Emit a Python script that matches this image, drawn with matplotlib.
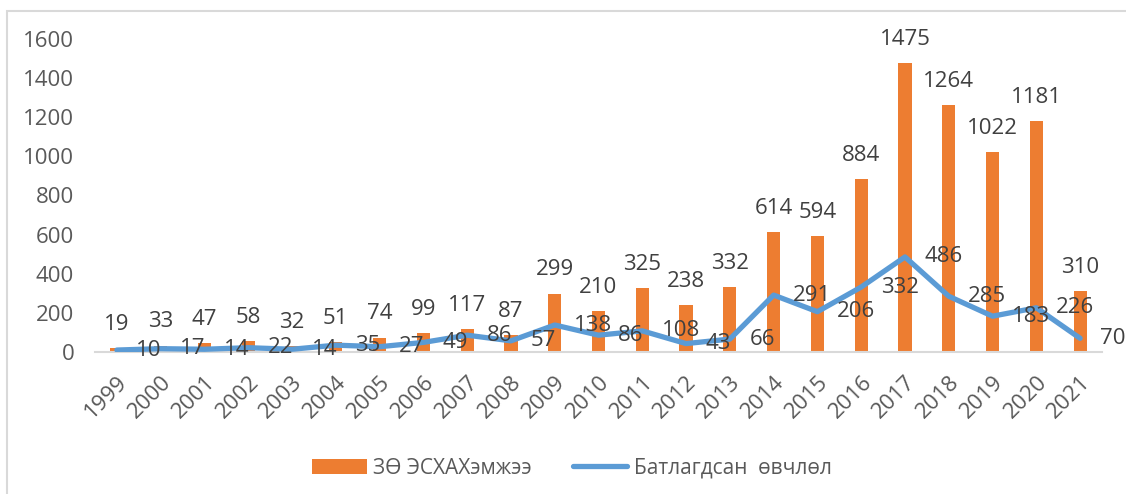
import matplotlib
matplotlib.use('Agg')
import matplotlib.pyplot as plt
from matplotlib.patches import Rectangle

plt.rcParams['font.family'] = ['Open Sans', 'DejaVu Sans']

years = [str(y) for y in range(1999, 2022)]
treatment = [19, 33, 47, 58, 32, 51, 74, 99, 117, 87, 299, 210, 325, 238, 332,
             614, 594, 884, 1475, 1264, 1022, 1181, 310]
cases = [10, 17, 14, 22, 14, 35, 27, 49, 86, 57, 138, 86, 108, 43, 66,
         291, 206, 332, 486, 285, 183, 226, 70]
bar_label = 'ЗӨ ЭСХАХэмжээ'
line_label = 'Батлагдсан  өвчлөл'
yticks = [0, 200, 400, 600, 800, 1000, 1200, 1400, 1600]

W, H = 1126, 494
fig = plt.figure(figsize=(W / 100, H / 100), dpi=100)
ax = fig.add_axes([95 / W, 1 - 352 / H, (1102 - 95) / W, (352 - 39) / H])

x = list(range(len(years)))
bars = ax.bar(x, treatment, width=0.3, color='#ED7D31', label=bar_label, zorder=2)
line, = ax.plot(x, cases, color='#5B9BD5', lw=3.8, solid_joinstyle='round',
                solid_capstyle='round', label=line_label, zorder=3)

ax.set_xlim(-0.5, len(years) - 0.5)
ax.set_ylim(0, 1600)
ax.set_yticks(yticks)
ax.set_xticks(x)
ax.set_xticklabels(years, rotation=45, ha='right', va='top', rotation_mode='anchor')

for s in ['top', 'right', 'left']:
    ax.spines[s].set_visible(False)
ax.spines['bottom'].set_color('#D9D9D9')
ax.spines['bottom'].set_linewidth(1.5)
ax.tick_params(axis='both', length=0, labelcolor='#595959', labelsize=16)
ax.tick_params(axis='y', pad=15)
ax.tick_params(axis='x', pad=14)

lab_col = '#404040'
for xi, v in zip(x, treatment):
    ax.annotate(str(v), (xi, v), xytext=(0, 17), textcoords='offset points',
                ha='center', va='center', fontsize=16, color=lab_col, zorder=4)
for xi, v in zip(x, cases):
    ax.annotate(str(v), (xi, v), xytext=(14, 0), textcoords='offset points',
                ha='left', va='center', fontsize=16, color=lab_col, zorder=4)

fig.legend([bars, line], [bar_label, line_label], loc='center',
           bbox_to_anchor=(572 / W, 1 - 468 / H), ncol=2,
           frameon=False, fontsize=15, handlelength=2.6, handletextpad=0.3,
           columnspacing=2.0, labelcolor='#595959')

fig.add_artist(Rectangle((7 / W, -0.1), 1.2, 1 - 11 / H + 0.1,
                         transform=fig.transFigure, fill=False,
                         edgecolor='#D9D9D9', lw=1.5))

fig.savefig('out.png', dpi=100)
